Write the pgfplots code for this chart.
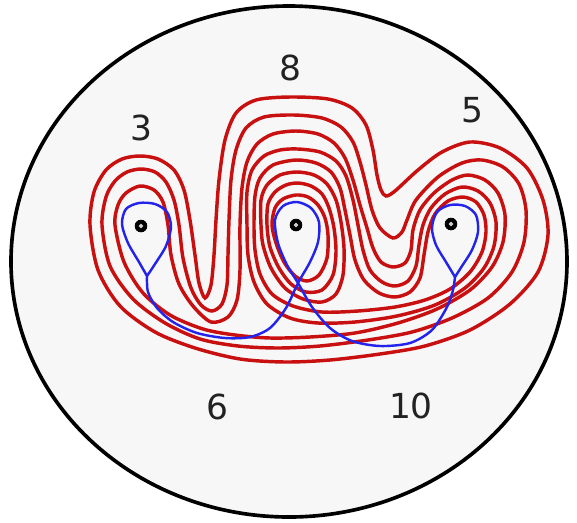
\documentclass[border=0pt]{standalone}
\usepackage{pgfplots}
\pgfplotsset{compat=1.18}
\usepackage{fontspec}
\setmainfont{DejaVu Sans}
\definecolor{cred}{RGB}{200,16,16}
\definecolor{cblue}{RGB}{35,35,235}
\definecolor{cfill}{RGB}{247,247,247}
\definecolor{ctext}{RGB}{34,34,34}
\begin{document}
\begin{tikzpicture}
\begin{axis}[width=10cm, height=9.0468cm, scale only axis,
  xmin=0, xmax=577, ymin=0, ymax=522, y dir=reverse,
  hide axis, clip=false]
\path (axis cs:0,0) rectangle (axis cs:577,522);
\draw[line width=1.8pt, fill=cfill] (axis cs:289,261.5) ellipse [x radius=278, y radius=255.5];
% red curves
\addplot[cred, line width=1.7pt, smooth cycle] coordinates {
(90,225) (94,192) (106,170) (122,159) (140,156) (158,159) (174,170) (184,190) (190,220) (195,255) (199,283) (205,298) (211,285) (214,255) (216,220) (219,180) (225,140) (236,113) (256,100) (290,97) (328,99) (352,108) (366,125) (373,150) (377,175) (381,190) (386,196) (395,191) (418,170) (442,152) (470,142) (500,148) (527,168) (543,200) (548,235) (538,272) (510,304) (470,330) (425,346) (380,354) (330,360) (285,362) (240,359) (195,348) (155,332) (120,306) (98,270)};
\addplot[cred, line width=1.7pt, smooth cycle] coordinates {
(102,225) (106,197) (115,181) (127,172) (141,169) (155,172) (166,182) (174,200) (179,225) (183,258) (191,288) (201,305) (212,311) (222,304) (227,285) (228,255) (229,220) (231,180) (236,150) (246,128) (264,117) (294,115) (322,118) (341,127) (353,142) (360,162) (366,185) (372,210) (380,228) (393,238) (402,232) (407,220) (416,200) (438,177) (462,163) (482,160) (503,167) (519,184) (526,210) (524,242) (512,272) (488,298) (452,318) (412,332) (368,340) (320,346) (278,348) (238,346) (200,339) (165,323) (133,299) (110,266)};
\addplot[cred, line width=1.7pt, smooth cycle] coordinates {
(115,225) (118,205) (126,193) (140,186) (154,190) (163,202) (168,225) (171,255) (179,284) (193,306) (211,322) (228,317) (237,300) (240,270) (240,225) (242,188) (247,162) (257,144) (273,134) (296,131) (318,134) (334,143) (345,158) (353,180) (360,205) (367,228) (373,248) (381,262) (393,267) (405,263) (411,250) (413,230) (420,210) (434,193) (452,180) (468,175) (485,180) (498,193) (505,215) (503,242) (492,267) (470,290) (437,309) (398,323) (355,333) (310,337) (270,338) (235,335) (203,329) (170,315) (143,293) (124,262)};
\addplot[cred, line width=1.7pt, smooth cycle] coordinates {
(247,225) (247,192) (252,170) (264,156) (280,150) (298,149) (320,152) (336,161) (346,176) (353,200) (358,225) (363,250) (370,270) (382,282) (395,286) (408,281) (416,266) (419,245) (423,225) (431,208) (445,194) (462,187) (478,191) (490,203) (496,222) (494,246) (484,268) (465,288) (435,305) (397,316) (355,322) (318,323) (290,318) (267,304) (254,282) (248,255)};
\addplot[cred, line width=1.7pt, smooth cycle] coordinates {
(254,225) (255,196) (260,178) (273,165) (296,160) (316,163) (331,172) (340,188) (345,210) (350,235) (355,260) (364,280) (379,293) (395,297) (410,292) (420,278) (424,255) (428,232) (435,214) (448,201) (463,197) (476,202) (484,215) (486,232) (482,252) (470,272) (450,289) (425,300) (395,307) (358,311) (322,312) (293,306) (272,294) (260,274) (255,250)};
\addplot[cred, line width=1.7pt, smooth cycle] coordinates {
(261,225) (261,200) (267,185) (280,175) (297,172) (314,175) (327,184) (336,200) (341,222) (344,248) (343,275) (336,294) (322,302) (303,299) (285,288) (271,268) (263,245)};
\addplot[cred, line width=1.7pt, smooth cycle] coordinates {
(267,225) (268,204) (275,192) (286,185) (298,183) (311,186) (322,194) (329,208) (334,228) (336,252) (333,275) (322,290) (306,292) (291,284) (279,268) (270,247)};
\addplot[cred, line width=1.7pt, smooth cycle] coordinates {
(272,225) (275,208) (283,199) (296,195) (308,197) (318,205) (325,218) (328,235) (327,258) (319,275) (307,281) (295,276) (284,262) (276,243)};
% blue curve
\addplot[cblue, line width=1.2pt, smooth] coordinates {
(147,276) (139,262) (128,243) (122,224) (126,209) (139,203) (155,204) (167,212) (171,227) (166,246) (155,264) (147,276)};
\addplot[cblue, line width=1.2pt, smooth] coordinates {
(147,276) (148,292) (157,308) (173,322) (197,333) (225,338) (250,337) (270,328) (286,308) (298,283) (310,262) (318,242) (319,222) (311,208) (297,202) (283,206) (275,220) (278,243) (287,265) (298,283) (312,307) (330,328) (352,341) (380,346) (410,343) (432,330) (447,307) (453,290) (455,277)};
\addplot[cblue, line width=1.2pt, smooth] coordinates {
(455,277) (446,262) (436,245) (432,228) (437,212) (450,205) (465,206) (476,215) (478,232) (472,250) (462,266) (455,277)};
% punctures
\addplot[only marks, mark=*, mark size=2.9pt, black] coordinates {(141,226) (296,225) (451,224)};
\addplot[only marks, mark=*, mark size=0.9pt, gray!40, mark options={draw=gray!40}] coordinates {(141,226) (296,225) (451,224)};
% labels
\node[text=ctext, font=\fontsize{17}{20}\selectfont] at (axis cs:141,128) {3};
\node[text=ctext, font=\fontsize{17}{20}\selectfont] at (axis cs:290,68) {8};
\node[text=ctext, font=\fontsize{17}{20}\selectfont] at (axis cs:472,110) {5};
\node[text=ctext, font=\fontsize{17}{20}\selectfont] at (axis cs:217,407) {6};
\node[text=ctext, font=\fontsize{17}{20}\selectfont] at (axis cs:411,406) {10};
\end{axis}
\end{tikzpicture}
\end{document}
